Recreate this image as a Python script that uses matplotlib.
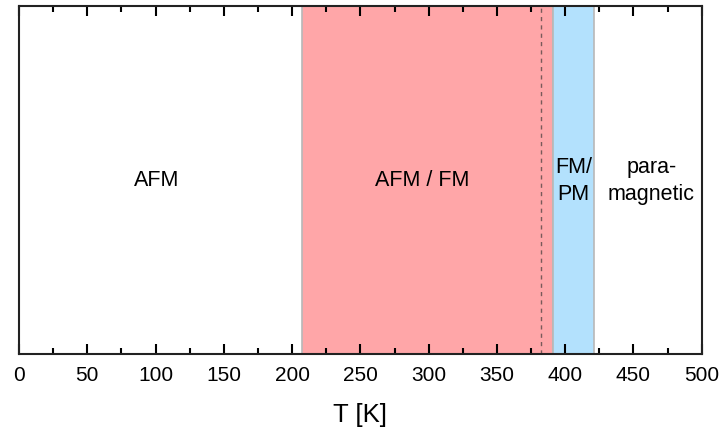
import matplotlib.pyplot as plt
from matplotlib.ticker import MultipleLocator

plt.rcParams['font.family'] = ['Liberation Sans', 'DejaVu Sans']

# phase boundaries in K
t_min, t_max = 0, 500
t_afm_fm = 207
t_fm_pm = 391
t_pm = 421
t_dash = 382

region_labels = ['AFM', 'AFM / FM', 'FM/\nPM', 'para-\nmagnetic']
region_centers = [101, 295, 406, 463]

fig = plt.figure(figsize=(7.19, 4.33), dpi=100)
ax = fig.add_axes([0.0264, 0.1836, 0.9496, 0.8024])

ax.axvspan(t_afm_fm, t_fm_pm, facecolor='#ffa6a8', edgecolor='#b8b8b8', lw=1.2)
ax.axvspan(t_fm_pm, t_pm, facecolor='#b3e1fd', edgecolor='#b8b8b8', lw=1.2)
ax.axvline(t_dash, color='#7a5a5a', ls=(0, (3, 3)), lw=1)

for lab, xc in zip(region_labels, region_centers):
    ax.text(xc, 0.497, lab, ha='center', va='center', fontsize=15.5,
            linespacing=1.35, transform=ax.get_xaxis_transform())

ax.set_xlim(t_min, t_max)
ax.set_ylim(0, 1)
ax.xaxis.set_major_locator(MultipleLocator(50))
ax.xaxis.set_minor_locator(MultipleLocator(25))
ax.set_yticks([])
ax.tick_params(axis='x', which='major', direction='in', length=7, width=1.5,
               top=True, labelsize=15, pad=9)
ax.tick_params(axis='x', which='minor', direction='in', length=4, width=1.5, top=True)
for s in ax.spines.values():
    s.set_linewidth(1.5)
    s.set_color('#222222')
ax.set_xlabel('T [K]', fontsize=18.5, labelpad=13)

fig.savefig('out.png', dpi=100)
